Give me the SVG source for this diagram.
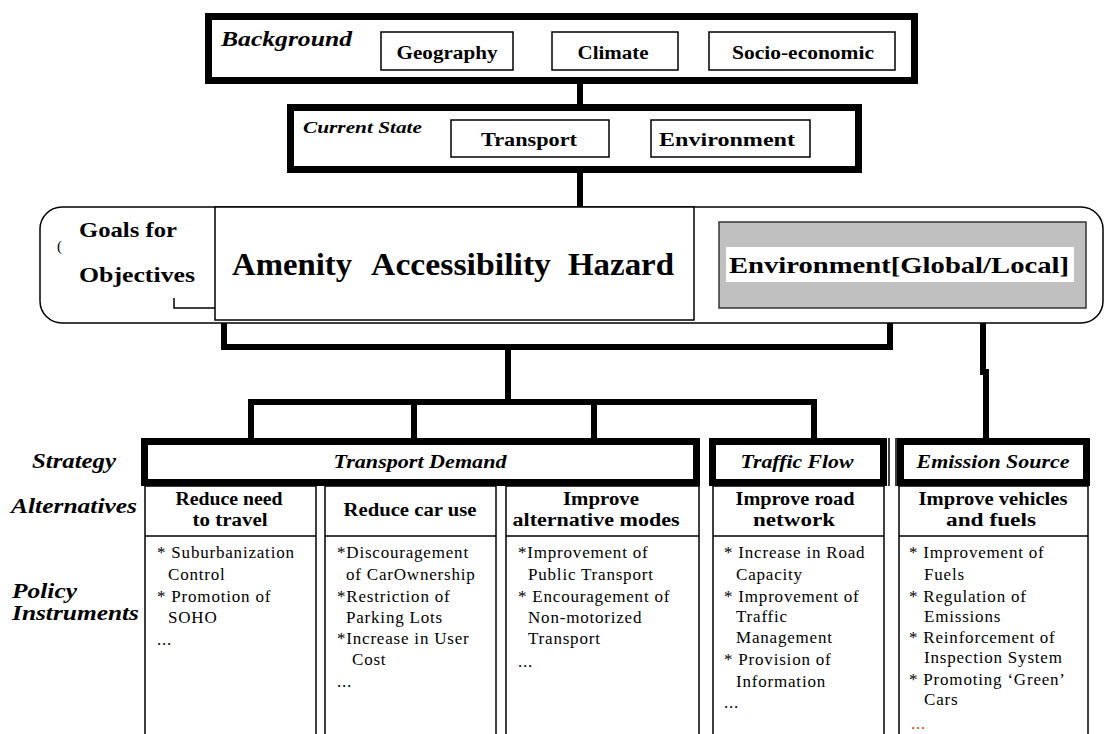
<svg xmlns="http://www.w3.org/2000/svg" width="1105" height="734" viewBox="0 0 1105 734">
<style>
.thick{fill:#fff;stroke:#000;stroke-width:7}
.thin{fill:#fff;stroke:#000;stroke-width:1.5}
.conn{fill:none;stroke:#000;stroke-width:6}
.ln{fill:none;stroke:#000;stroke-width:1.5}
text{font-family:"Liberation Serif","Times New Roman",serif;fill:#000}
.b{font-weight:bold;font-size:18px}
.bi{font-weight:bold;font-style:italic;font-size:20px}
.r{font-size:17px;letter-spacing:0.8px}
.m{text-anchor:middle}
</style>
<rect width="1105" height="734" fill="#fff"/>
<g id="connectors">
<line class="conn" x1="580" y1="84" x2="580" y2="104"/>
<line class="conn" x1="580" y1="173" x2="580" y2="207"/>
<polyline class="conn" points="224,320 224,347 890,347 890,308"/>
<line class="conn" x1="508" y1="347" x2="508" y2="402"/>
<polyline class="conn" points="251,438 251,402 814,402 814,438"/>
<line class="conn" x1="414" y1="402" x2="414" y2="438"/>
<line class="conn" x1="594" y1="402" x2="594" y2="438"/>
<polyline class="conn" points="983,308 983,372 986,372 986,438"/>
</g>
<g id="background">
<rect class="thick" x="208.5" y="16.5" width="706" height="64"/>
<text class="bi" x="221" y="46" font-size="21" textLength="131" lengthAdjust="spacingAndGlyphs">Background</text>
<rect class="thin" x="381" y="32" width="132" height="38"/>
<text class="b m" x="447" y="59" textLength="101" lengthAdjust="spacingAndGlyphs">Geography</text>
<rect class="thin" x="552" y="32" width="126" height="38"/>
<text class="b m" x="613" y="59" textLength="71" lengthAdjust="spacingAndGlyphs">Climate</text>
<rect class="thin" x="709" y="32" width="186" height="38"/>
<text class="b m" x="803" y="59" textLength="142" lengthAdjust="spacingAndGlyphs">Socio-economic</text>
</g>
<g id="current-state">
<rect class="thick" x="290.5" y="107.5" width="568" height="62"/>
<text class="bi" x="303" y="133" style="font-size:17px" textLength="119" lengthAdjust="spacingAndGlyphs">Current State</text>
<rect class="thin" x="451" y="120" width="158" height="37"/>
<text class="b m" x="529" y="146" textLength="96" lengthAdjust="spacingAndGlyphs">Transport</text>
<rect class="thin" x="651" y="120" width="159" height="37"/>
<text class="b m" x="727" y="146" textLength="136" lengthAdjust="spacingAndGlyphs">Environment</text>
</g>
<g id="goals">
<rect class="thin" x="40" y="207" width="1063" height="116" rx="22"/>
<text x="57" y="251" style="font-size:15px">(</text>
<text class="b" x="79" y="237" style="font-size:22px" textLength="98" lengthAdjust="spacingAndGlyphs">Goals for</text>
<text class="b" x="79" y="282" style="font-size:22px" textLength="116" lengthAdjust="spacingAndGlyphs">Objectives</text>
<polyline class="ln" points="174,298 174,308 215,308"/>
</g>
<g id="amenity">
<rect class="thin" x="215" y="207" width="479" height="113"/>
<text class="b" x="232" y="275" style="font-size:32px" textLength="120" lengthAdjust="spacingAndGlyphs">Amenity</text>
<text class="b" x="371" y="275" style="font-size:32px" textLength="180" lengthAdjust="spacingAndGlyphs">Accessibility</text>
<text class="b" x="568" y="275" style="font-size:32px" textLength="106" lengthAdjust="spacingAndGlyphs">Hazard</text>
</g>
<g id="environment-goal">
<rect x="719" y="222" width="367" height="86" fill="#c0c0c0" stroke="#333" stroke-width="1.5"/>
<rect x="726" y="247" width="348" height="35" fill="#fff"/>
<text class="b" x="729" y="273" style="font-size:23px" textLength="340" lengthAdjust="spacingAndGlyphs">Environment[Global/Local]</text>
</g>
<g id="row-labels">
<text class="bi" x="32" y="468" textLength="84" lengthAdjust="spacingAndGlyphs">Strategy</text>
<text class="bi" x="11" y="513" textLength="126" lengthAdjust="spacingAndGlyphs">Alternatives</text>
<text class="bi" x="12" y="598" textLength="65" lengthAdjust="spacingAndGlyphs">Policy</text>
<text class="bi" x="12" y="620" textLength="127" lengthAdjust="spacingAndGlyphs">Instruments</text>
</g>
<g id="transport-demand">
<rect class="thick" x="144.5" y="441.5" width="552" height="41"/>
<text class="bi m" x="420" y="468" style="font-size:18px" textLength="173" lengthAdjust="spacingAndGlyphs">Transport Demand</text>
</g>
<g id="traffic-flow">
<rect class="thick" x="712.5" y="441.5" width="171" height="41"/>
<line class="ln" x1="889" y1="438" x2="889" y2="486"/>
<text class="bi m" x="797" y="468" style="font-size:18px" textLength="113" lengthAdjust="spacingAndGlyphs">Traffic Flow</text>
</g>
<g id="emission-source">
<rect class="thick" x="900.5" y="441.5" width="186" height="41"/>
<line class="ln" x1="896" y1="438" x2="896" y2="486"/>
<text class="bi m" x="993" y="468" style="font-size:18px" textLength="153" lengthAdjust="spacingAndGlyphs">Emission Source</text>
</g>
<g id="reduce-need">
<rect class="thin" x="145" y="486" width="171" height="260"/>
<line class="ln" x1="145" y1="536" x2="316" y2="536"/>
<text class="b m" x="229" y="505" textLength="107" lengthAdjust="spacingAndGlyphs">Reduce need</text>
<text class="b m" x="230" y="526" textLength="75" lengthAdjust="spacingAndGlyphs">to travel</text>
<text class="r" x="157" y="558">* Suburbanization</text>
<text class="r" x="168" y="580">Control</text>
<text class="r" x="157" y="602">* Promotion of</text>
<text class="r" x="168" y="623">SOHO</text>
<text class="r" x="157" y="645">...</text>
</g>
<g id="reduce-car">
<rect class="thin" x="325" y="486" width="171" height="260"/>
<line class="ln" x1="325" y1="536" x2="496" y2="536"/>
<text class="b m" x="410" y="516" textLength="133" lengthAdjust="spacingAndGlyphs">Reduce car use</text>
<text class="r" x="337" y="558">*Discouragement</text>
<text class="r" x="346" y="580">of CarOwnership</text>
<text class="r" x="337" y="602">*Restriction of</text>
<text class="r" x="346" y="623">Parking Lots</text>
<text class="r" x="337" y="644">*Increase in User</text>
<text class="r" x="352" y="665">Cost</text>
<text class="r" x="337" y="687">...</text>
</g>
<g id="improve-alt">
<rect class="thin" x="506" y="486" width="193" height="260"/>
<line class="ln" x1="506" y1="536" x2="699" y2="536"/>
<text class="b m" x="601" y="505" textLength="76" lengthAdjust="spacingAndGlyphs">Improve</text>
<text class="b m" x="596" y="526" textLength="167" lengthAdjust="spacingAndGlyphs">alternative modes</text>
<text class="r" x="518" y="558">*Improvement of</text>
<text class="r" x="528" y="580">Public Transport</text>
<text class="r" x="518" y="602">* Encouragement of</text>
<text class="r" x="528" y="623">Non-motorized</text>
<text class="r" x="528" y="644">Transport</text>
<text class="r" x="518" y="667">...</text>
</g>
<g id="improve-road">
<rect class="thin" x="713" y="486" width="171" height="260"/>
<line class="ln" x1="713" y1="536" x2="884" y2="536"/>
<text class="b m" x="795" y="505" textLength="119" lengthAdjust="spacingAndGlyphs">Improve road</text>
<text class="b m" x="794" y="526" textLength="82" lengthAdjust="spacingAndGlyphs">network</text>
<text class="r" x="724" y="558">* Increase in Road</text>
<text class="r" x="736" y="580">Capacity</text>
<text class="r" x="724" y="602">* Improvement of</text>
<text class="r" x="736" y="622">Traffic</text>
<text class="r" x="736" y="643">Management</text>
<text class="r" x="724" y="665">* Provision of</text>
<text class="r" x="736" y="687">Information</text>
<text class="r" x="724" y="708">...</text>
</g>
<g id="improve-vehicles">
<rect class="thin" x="899" y="486" width="189" height="260"/>
<line class="ln" x1="899" y1="536" x2="1088" y2="536"/>
<text class="b m" x="993" y="505" textLength="149" lengthAdjust="spacingAndGlyphs">Improve vehicles</text>
<text class="b m" x="991" y="526" textLength="90" lengthAdjust="spacingAndGlyphs">and fuels</text>
<text class="r" x="909" y="558">* Improvement of</text>
<text class="r" x="924" y="580">Fuels</text>
<text class="r" x="909" y="602">* Regulation of</text>
<text class="r" x="924" y="622">Emissions</text>
<text class="r" x="909" y="643">* Reinforcement of</text>
<text class="r" x="924" y="663">Inspection System</text>
<text class="r" x="909" y="685">* Promoting ‘Green’</text>
<text class="r" x="924" y="705">Cars</text>
<text class="r" x="911" y="729" style="fill:#d84a20">...</text>
</g>
</svg>
